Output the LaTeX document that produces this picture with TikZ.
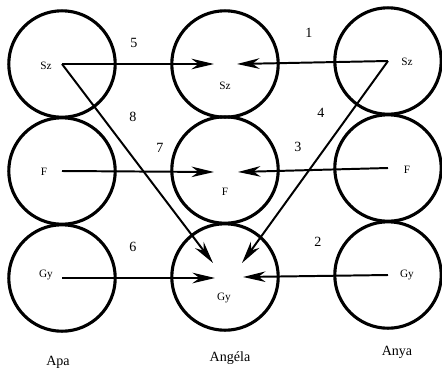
\documentclass[tikz,border=0pt]{standalone}
\usepackage{fontspec}
\setmainfont{Liberation Serif}
\usetikzlibrary{arrows.meta}
\tikzset{
  person/.style={circle, draw, line width=2.2pt, minimum size=2.66cm, inner sep=0pt},
  trait/.style={font=\footnotesize},
  num/.style={font=\normalsize},
  link/.style={line width=1.4pt, -{Stealth[length=16pt, width=7.5pt, inset=5pt]}}
}
\begin{document}
\begin{tikzpicture}[x=0.025cm, y=-0.025cm]
    \useasboundingbox (0,0) rectangle (442,371);
    % circles of the three people
    \node[person] (a1) at (62,64) {};
    \node[person] (a2) at (62,171) {};
    \node[person] (a3) at (62,278) {};
    \node[person] (g1) at (225,64) {};
    \node[person] (g2) at (225,170) {};
    \node[person] (g3) at (225,277) {};
    \node[person] (n1) at (388,61) {};
    \node[person] (n2) at (388,168) {};
    \node[person] (n3) at (388,275) {};
    % traits
    \node[trait] (a1t) at (46,66) {Sz};
    \node[trait] (a2t) at (44,172) {F};
    \node[trait] (a3t) at (46,275) {Gy};
    \node[trait] (g1t) at (225,86) {Sz};
    \node[trait] (g2t) at (225,192) {F};
    \node[trait] (g3t) at (224,298) {Gy};
    \node[trait] (n1t) at (407,62) {Sz};
    \node[trait] (n2t) at (407,170) {F};
    \node[trait] (n3t) at (407,275) {Gy};
    % arrow tips inside the middle circles
    \coordinate (g1l) at (214,64);
    \coordinate (g1r) at (237,64);
    \coordinate (g2l) at (214,172);
    \coordinate (g2r) at (238,172);
    \coordinate (g3l) at (215,278);
    \coordinate (g3r) at (243,277);
    \coordinate (g3dl) at (213,263);
    \coordinate (g3dr) at (242,263);
    \draw[link] (a1.center) -- (g1l);
    \draw[link] (n1.center) -- (g1r);
    \draw[link] (a1.center) -- (g3dl);
    \draw[link] (n1.center) -- (g3dr);
    \draw[link] (a2.center) -- (g2l);
    \draw[link] (n2.center) -- (g2r);
    \draw[link] (a3.center) -- (g3l);
    \draw[link] (n3.center) -- (g3r);
    % numbers of the arrows
    \node[num] (l5) at (134,43) {5};
    \node[num] (l1) at (309,33) {1};
    \node[num] (l8) at (133,117) {8};
    \node[num] (l4) at (321,113) {4};
    \node[num] (l7) at (160,148) {7};
    \node[num] (l3) at (298,147) {3};
    \node[num] (l6) at (133,247) {6};
    \node[num] (l2) at (318,242) {2};
    % names
    \node (apa) at (58,362) {Apa};
    \node (angela) at (230,358) {Angéla};
    \node (anya) at (397,352) {Anya};
\end{tikzpicture}
\end{document}
